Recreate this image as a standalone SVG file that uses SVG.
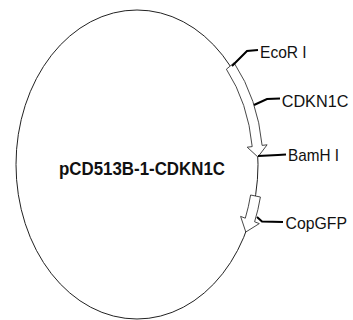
<svg xmlns="http://www.w3.org/2000/svg" width="353" height="320" viewBox="0 0 353 320">
<style>
.bb{fill:none;stroke:#222;stroke-width:1}
.feat{fill:#fff;stroke:#333;stroke-width:0.9;stroke-linejoin:miter}
.lead{fill:none;stroke:#000;stroke-width:2;stroke-linejoin:miter}
.lbl{font-family:"Liberation Sans Narrow","Arial Narrow","Liberation Sans",Arial,sans-serif;font-size:17px;fill:#111}
.ttl{font-family:"Liberation Sans",Arial,sans-serif;font-size:18px;font-weight:bold;fill:#111}
</style>
<rect width="353" height="320" fill="#fff"/>
<g id="backbone">
<ellipse class="bb" cx="137" cy="164.5" rx="121" ry="154.5"/>
</g>
<g id="title">
<text class="ttl" x="59" y="175" textLength="166" lengthAdjust="spacingAndGlyphs">pCD513B-1-CDKN1C</text>
</g>
<g id="CDKN1C-feature">
<path class="feat" d="M234.1 62.8 A126 159.5 0 0 1 262.1 145.4 L267.1 144.8 L257.9 157 L247.2 147.2 L252.2 146.6 A116 149.5 0 0 0 226.4 69.2 Z"/>
</g>
<g id="CopGFP-feature">
<path class="feat" d="M250.6 195 A116 149.5 0 0 1 245.3 218.2 L240.6 216.4 L245.8 232 L259.3 223.6 L254.6 221.8 A126 159.5 0 0 0 260.4 197 Z"/>
</g>
<g id="connectors">
<polyline class="lead" points="232,66 247,51 258,50"/>
<polyline class="lead" points="254,105 267,99 280,98.5"/>
<polyline class="lead" points="258,156 278,155 286,154.5"/>
<polyline class="lead" points="257,217 262,221.5 283,222"/>
</g>
<g id="EcoRI">
<text class="lbl" x="260" y="57.5" textLength="46.7" lengthAdjust="spacingAndGlyphs">EcoR I</text>
</g>
<g id="CDKN1C">
<text class="lbl" x="281.7" y="106.5" textLength="66.7" lengthAdjust="spacingAndGlyphs">CDKN1C</text>
</g>
<g id="BamHI">
<text class="lbl" x="288" y="160.8" textLength="51" lengthAdjust="spacingAndGlyphs">BamH I</text>
</g>
<g id="CopGFP">
<text class="lbl" x="285.5" y="229" textLength="61.5" lengthAdjust="spacingAndGlyphs">CopGFP</text>
</g>
</svg>
